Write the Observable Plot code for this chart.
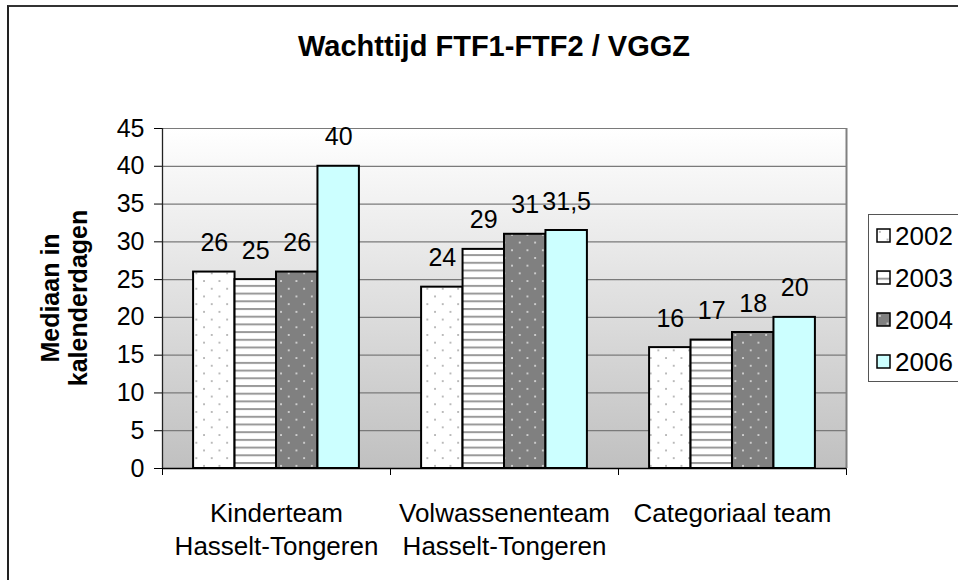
<!DOCTYPE html>
<html>
<head>
<meta charset="utf-8">
<script src="https://cdn.jsdelivr.net/npm/d3@7"></script>
<script src="https://cdn.jsdelivr.net/npm/@observablehq/plot@0.6"></script>
<style>
  html, body { margin: 0; padding: 0; background: #fff; overflow: hidden; }
  #wrap { position: relative; width: 958px; height: 580px; overflow: hidden; font-family: "Liberation Sans", Arial, sans-serif; }
  #border { position: absolute; left: 7px; top: 5px; width: 1200px; height: 1200px; border-left: 2px solid #222; border-top: 2px solid #333; box-sizing: border-box; }
  #chart { position: absolute; left: 0; top: 0; }
  #overlay { position: absolute; left: 0; top: 0; pointer-events: none; }
  #legend { position: absolute; left: 868px; top: 214px; width: 200px; height: 168px; border: 1.5px solid #555; box-sizing: border-box; background: #fff; }
  .item { position: absolute; left: 7px; height: 30px; display: flex; align-items: center; font-size: 26px; color: #000; }
  .item svg { margin-right: 3px; }
</style>
</head>
<body>
<svg width="0" height="0" style="position:absolute">
  <defs>
    <linearGradient id="bgGrad" x1="0" y1="0" x2="0" y2="1">
      <stop offset="0" stop-color="#ffffff"/>
      <stop offset="1" stop-color="#c0c0c0"/>
    </linearGradient>
    <pattern id="p2002" patternUnits="userSpaceOnUse" width="15.4" height="15.4">
      <rect width="15.4" height="15.4" fill="#ffffff"/>
      <circle cx="3.85" cy="3.85" r="0.9" fill="#9a9a9a"/>
      <circle cx="11.55" cy="11.55" r="0.9" fill="#9a9a9a"/>
    </pattern>
    <pattern id="p2003" patternUnits="userSpaceOnUse" width="8" height="7.7">
      <rect width="8" height="7.7" fill="#ffffff"/>
      <rect y="0" width="8" height="2" fill="#9a9a9a"/>
    </pattern>
    <pattern id="p2004" patternUnits="userSpaceOnUse" width="15.4" height="15.4">
      <rect width="15.4" height="15.4" fill="#808080"/>
      <circle cx="3.85" cy="3.85" r="1" fill="#e6e6e6"/>
      <circle cx="11.55" cy="11.55" r="1" fill="#e6e6e6"/>
    </pattern>
    <pattern id="p2006" patternUnits="userSpaceOnUse" width="8" height="8">
      <rect width="8" height="8" fill="#ccffff"/>
    </pattern>
  </defs>
</svg>
<div id="wrap">
  <div id="border"></div>
  <div id="chart"></div>
  <svg id="overlay" width="958" height="580"></svg>
  <div id="legend"></div>
</div>
<script>
// ---- data ----
const categories = ["Kinderteam\nHasselt-Tongeren", "Volwassenenteam\nHasselt-Tongeren", "Categoriaal team"];
const years = ["2002", "2003", "2004", "2006"];
const values2002 = [26, 24, 16];
const values2003 = [25, 29, 17];
const values2004 = [26, 31, 18];
const values2006 = [40, 31.5, 20];
const yTicks = [0, 5, 10, 15, 20, 25, 30, 35, 40, 45];
const title = "Wachttijd FTF1-FTF2 / VGGZ";
const yLabelLines = ["Mediaan in", "kalenderdagen"];
const fills = ["url(#p2002)", "url(#p2003)", "url(#p2004)", "url(#p2006)"];

const seriesValues = [values2002, values2003, values2004, values2006];
const rows = [];
years.forEach((year, yi) => {
  categories.forEach((category, ci) => {
    rows.push({ci, yi, category, year, value: seriesValues[yi][ci]});
  });
});

// Excel-like clustered layout: gap width 150% => 4 bars + 1.5 bar gap per category
const slots = years.length + 1.5;
const half = 0.75;
const barX1 = d => d.ci + (half + d.yi) / slots;
const barX2 = d => d.ci + (half + d.yi + 1) / slots;
const barXC = d => d.ci + (half + d.yi + 0.5) / slots;
const fmt = v => String(v).replace(".", ",");

const chart = Plot.plot({
  width: 958,
  height: 580,
  marginLeft: 162,
  marginRight: 112,
  marginTop: 128,
  marginBottom: 112,
  style: {fontFamily: "'Liberation Sans', Arial, sans-serif", fontSize: "25px", color: "#000", background: "transparent", overflow: "visible"},
  x: {domain: [0, categories.length], ticks: categories.length, tickFormat: () => "", tickSize: 7, label: null},
  y: {domain: [0, 45], ticks: yTicks, tickSize: 8, tickPadding: 10, label: null},
  color: {type: "ordinal", domain: years, range: fills},
  marks: [
    Plot.frame({fill: "url(#bgGrad)"}),
    Plot.ruleY(yTicks.slice(1), {stroke: "#7a7a7a", strokeWidth: 1.2}),
    Plot.rectY(rows, {x1: barX1, x2: barX2, y1: 0, y2: "value", fill: "year", stroke: "#000", strokeWidth: 2}),
    Plot.ruleX([0], {stroke: "#222", strokeWidth: 1.3}),
    Plot.ruleX([categories.length], {stroke: "#808080", strokeWidth: 2}),
    Plot.ruleY([0], {stroke: "#000", strokeWidth: 1.5}),
    Plot.text(rows, {x: barXC, y: "value", text: d => fmt(d.value), dy: -21, lineAnchor: "bottom", fontSize: 25}),
    Plot.text(categories, {x: (d, i) => i + 0.5, frameAnchor: "bottom", text: d => d, dy: 29, lineAnchor: "top", lineHeight: 1.3, fontSize: 26})
  ]
});
document.getElementById("chart").appendChild(chart);

// title and y label
const ov = d3.select("#overlay");
ov.append("text").attr("x", 494).attr("y", 56).attr("text-anchor", "middle")
  .attr("font-family", "'Liberation Sans', Arial, sans-serif").attr("font-weight", "bold").attr("font-size", 29).text(title);
yLabelLines.forEach((t, i) => {
  ov.append("text").attr("transform", `translate(${59 + i * 28},298) rotate(-90)`)
    .attr("text-anchor", "middle").attr("font-family", "'Liberation Sans', Arial, sans-serif")
    .attr("font-weight", "bold").attr("font-size", 25).text(t);
});

// legend
const legend = d3.select("#legend");
years.forEach((y, i) => {
  const it = legend.append("div").attr("class", "item").style("top", (6 + i * 42) + "px");
  const s = it.append("svg").attr("width", 16).attr("height", 16);
  s.append("rect").attr("x", 1).attr("y", 1).attr("width", 13).attr("height", 13)
    .attr("fill", fills[i]).attr("stroke", "#000").attr("stroke-width", 1.5);
  it.append("span").text(y);
});
</script>
</body>
</html>
